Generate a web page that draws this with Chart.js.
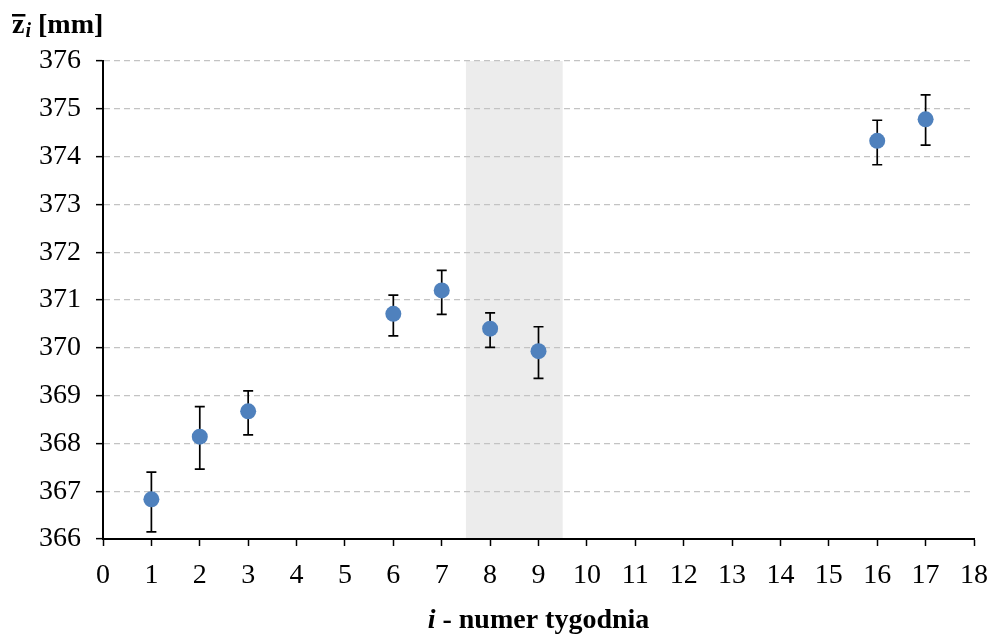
<!DOCTYPE html>
<html>
<head>
<meta charset="utf-8">
<script src="https://cdn.jsdelivr.net/npm/chart.js@4/dist/chart.umd.min.js"></script>
<style>
html,body{margin:0;padding:0;background:#fff;}
#wrap{width:991px;height:641px;position:relative;}
</style>
</head>
<body>
<div id="wrap"><canvas id="c" width="991" height="641"></canvas></div>
<script>
const weeks = [1, 2, 3, 6, 7, 8, 9, 16, 17];
const means = [366.83, 368.14, 368.67, 370.71, 371.20, 370.40, 369.93, 374.33, 374.78];
const lower = [366.15, 367.46, 368.18, 370.25, 370.70, 370.01, 369.36, 373.83, 374.24];
const upper = [367.40, 368.77, 369.10, 371.10, 371.62, 370.73, 370.44, 374.76, 375.29];
const band = [7.5, 9.5];
const xRange = [0, 18];
const yRange = [366, 376];

const FONT = "'Liberation Serif', 'Times New Roman', serif";

const bandPlugin = {
  id: 'band',
  beforeDraw(chart) {
    const {ctx, chartArea, scales} = chart;
    const x0 = scales.x.getPixelForValue(band[0]);
    const x1 = scales.x.getPixelForValue(band[1]);
    ctx.save();
    ctx.fillStyle = '#ececec';
    ctx.fillRect(x0, chartArea.top, x1 - x0, chartArea.bottom - chartArea.top);
    ctx.restore();
  }
};

const errPlugin = {
  id: 'err',
  beforeDatasetsDraw(chart) {
    const {ctx, scales} = chart;
    ctx.save();
    ctx.strokeStyle = '#000';
    ctx.lineWidth = 1.7;
    for (let i = 0; i < weeks.length; i++) {
      const x = scales.x.getPixelForValue(weeks[i]);
      const yt = scales.y.getPixelForValue(upper[i]);
      const yb = scales.y.getPixelForValue(lower[i]);
      ctx.beginPath();
      ctx.moveTo(x, yt); ctx.lineTo(x, yb);
      ctx.moveTo(x - 5, yt); ctx.lineTo(x + 5, yt);
      ctx.moveTo(x - 5, yb); ctx.lineTo(x + 5, yb);
      ctx.stroke();
    }
    ctx.restore();
  }
};

const titlePlugin = {
  id: 'titles',
  afterDraw(chart) {
    const {ctx, chartArea} = chart;
    ctx.save();
    ctx.fillStyle = '#000';
    ctx.textBaseline = 'alphabetic';
    ctx.font = "bold 28px " + FONT;
    const zx = 12, base = 33;
    ctx.fillText('z', zx, base);
    const zw = ctx.measureText('z').width;
    ctx.fillRect(zx, 14, zw + 1, 2.5);
    ctx.font = "italic bold 20px " + FONT;
    ctx.fillText('i', zx + zw + 1, base + 4);
    const iw = ctx.measureText('i').width;
    ctx.font = "bold 28px " + FONT;
    ctx.fillText(' [mm]', zx + zw + iw + 1, base);
    const cx = (chartArea.left + chartArea.right) / 2;
    ctx.font = "italic bold 28px " + FONT;
    const p1 = 'i';
    const w1 = ctx.measureText(p1).width;
    ctx.font = "bold 28px " + FONT;
    const p2 = ' - numer tygodnia';
    const w2 = ctx.measureText(p2).width;
    let sx = cx - (w1 + w2) / 2;
    ctx.font = "italic bold 28px " + FONT;
    ctx.fillText(p1, sx, 628);
    ctx.font = "bold 28px " + FONT;
    ctx.fillText(p2, sx + w1, 628);
    ctx.restore();
  }
};

new Chart(document.getElementById('c'), {
  type: 'scatter',
  data: {
    datasets: [{
      data: weeks.map((w, i) => ({x: w, y: means[i]})),
      backgroundColor: '#4f81bd',
      borderColor: '#4f81bd',
      pointRadius: 8,
      pointHoverRadius: 8,
      borderWidth: 0
    }]
  },
  options: {
    responsive: false,
    animation: false,
    layout: {padding: {top: 61, right: 17, left: 0, bottom: 0}},
    plugins: {legend: {display: false}, tooltip: {enabled: false}},
    scales: {
      x: {
        type: 'linear',
        min: xRange[0], max: xRange[1],
        ticks: {stepSize: 1, color: '#000', font: {family: FONT, size: 28}, padding: 13, maxRotation: 0, autoSkip: false},
        grid: {drawOnChartArea: false, tickLength: 7, tickColor: '#000', tickWidth: 1.5},
        border: {color: '#000', width: 2},
        afterFit(s) { s.height = 102; s.paddingLeft = 0; s.paddingRight = 0; }
      },
      y: {
        type: 'linear',
        min: yRange[0], max: yRange[1],
        ticks: {stepSize: 1, color: '#000', font: {family: FONT, size: 28}, padding: 15},
        grid: {color: '#c3c3c3', lineWidth: 1.3, tickLength: 7, tickColor: '#000', tickWidth: 1.5, tickBorderDash: []},
        border: {color: '#000', width: 2, dash: [6, 4]},
        afterFit(s) { s.width = 103; s.paddingTop = 0; s.paddingBottom = 0; }
      }
    }
  },
  plugins: [bandPlugin, errPlugin, titlePlugin]
});
</script>
</body>
</html>
